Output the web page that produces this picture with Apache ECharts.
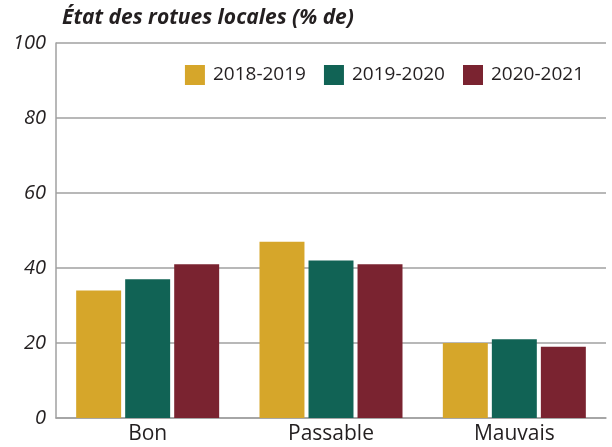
<!DOCTYPE html>
<html>
<head>
<meta charset="utf-8">
<script src="https://cdn.jsdelivr.net/npm/echarts@6/dist/echarts.min.js"></script>
<style>
  html, body { margin: 0; padding: 0; background: #fff; }
  #chart { width: 612px; height: 447px; }
</style>
</head>
<body>
<div id="chart"></div>
<script>
const categories = ["Bon", "Passable", "Mauvais"];
const seriesNames = ["2018-2019", "2019-2020", "2020-2021"];
const values2018 = [34, 47, 20];
const values2019 = [37, 42, 21];
const values2020 = [41, 41, 19];
const colors = ["#D6A62A", "#116355", "#7A2330"];

const chart = echarts.init(document.getElementById("chart"));
const seriesValues = [values2018, values2019, values2020];
let series = [];
for (let i = 0; i < seriesNames.length; i++) {
  series.push({
    name: seriesNames[i],
    type: "bar",
    data: seriesValues[i],
    barGap: "9%",
    barCategoryGap: "22%"
  });
}

const option = {
  animation: false,
  color: colors,
  textStyle: { fontFamily: "Open Sans" },
  title: {
    text: "État des rotues locales (% de)",
    left: 57,
    top: 3,
    textStyle: {
      fontFamily: "Open Sans",
      fontStyle: "italic",
      fontWeight: "bold",
      fontSize: 21,
      color: "#231f20"
    }
  },
  legend: {
    right: 23,
    top: 60,
    itemWidth: 20,
    itemHeight: 20,
    itemGap: 18,
    icon: "rect",
    textStyle: { fontSize: 19, color: "#231f20", fontFamily: "Open Sans", padding: [0, 0, 0, 3] }
  },
  grid: { left: 56, right: 6, top: 43, bottom: 29, containLabel: false },
  xAxis: {
    type: "category",
    data: categories,
    axisTick: { show: false },
    axisLine: { lineStyle: { color: "#a0a0a0", width: 1.5 } },
    axisLabel: { fontSize: 21, color: "#231f20", margin: 6 }
  },
  yAxis: {
    type: "value",
    min: 0,
    max: 100,
    interval: 20,
    axisLine: { show: true, lineStyle: { color: "#a0a0a0", width: 1.5 } },
    axisTick: { show: false },
    axisLabel: { fontSize: 20, fontStyle: "italic", color: "#231f20", margin: 10 },
    splitLine: { lineStyle: { color: "#a0a0a0", width: 1.5 } }
  },
  series: series
};
chart.setOption(option);
</script>
</body>
</html>
